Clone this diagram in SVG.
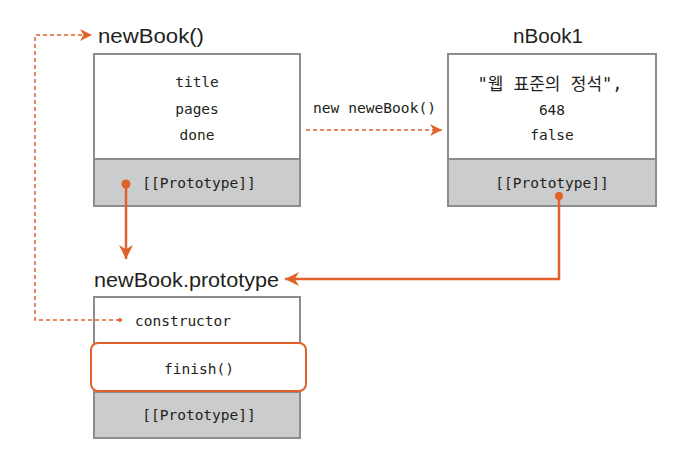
<svg xmlns="http://www.w3.org/2000/svg" width="675" height="454" viewBox="0 0 675 454">
<style>
.box{fill:#fff;stroke:#8c8c8c;stroke-width:2}
.gray{fill:#cbcccd;stroke:#8c8c8c;stroke-width:2}
.mono{font-family:"DejaVu Sans Mono","Liberation Mono","Noto Sans CJK KR",monospace;font-size:14.5px;fill:#231f20;text-anchor:middle}
.title{font-family:"Liberation Sans","DejaVu Sans",sans-serif;font-size:20px;fill:#231f20}
.solid{fill:none;stroke:#e0622a;stroke-width:2.5}
.dash{fill:none;stroke:#e0622a;stroke-width:1.5;stroke-dasharray:4 3}
</style>
<defs>
<marker id="ah" viewBox="0 0 10 10" refX="10" refY="5" markerWidth="12" markerHeight="12" markerUnits="userSpaceOnUse" orient="auto">
<path d="M0,0 L10,5 L0,10 L3,5 z" fill="#e0622a"/>
</marker>
<marker id="ah2" viewBox="0 0 10 10" refX="10" refY="5" markerWidth="14" markerHeight="14" markerUnits="userSpaceOnUse" orient="auto">
<path d="M0,0 L10,5 L0,10 L3,5 z" fill="#e0622a"/>
</marker>
</defs>
<g id="newBook">
<rect class="box" x="94" y="54" width="206" height="105"/>
<rect class="gray" x="94" y="159" width="206" height="47"/>
<text class="title" x="98" y="43" textLength="106" lengthAdjust="spacingAndGlyphs">newBook()</text>
<text class="mono" x="197" y="87">title</text>
<text class="mono" x="197" y="114">pages</text>
<text class="mono" x="197" y="140">done</text>
<text class="mono" x="199" y="188">[[Prototype]]</text>
</g>
<g id="nBook1">
<rect class="box" x="448" y="54" width="208" height="105"/>
<rect class="gray" x="448" y="159" width="208" height="47"/>
<text class="title" x="548" y="43" text-anchor="middle" textLength="70" lengthAdjust="spacingAndGlyphs">nBook1</text>
<text class="mono" x="550" y="90" style="font-size:17px">"웹 표준의 정석",</text>
<text class="mono" x="552" y="115">648</text>
<text class="mono" x="552" y="140">false</text>
<text class="mono" x="552" y="188">[[Prototype]]</text>
</g>
<g id="prototype">
<rect class="box" x="94" y="297" width="206" height="95"/>
<rect class="gray" x="94" y="392" width="206" height="46"/>
<rect x="91" y="343" width="215" height="48" rx="7" fill="#fff" stroke="#e0622a" stroke-width="2"/>
<text class="title" x="94" y="287" textLength="185" lengthAdjust="spacingAndGlyphs">newBook.prototype</text>
<text class="mono" x="135" y="326" style="text-anchor:start">constructor</text>
<text class="mono" x="199" y="374">finish()</text>
<text class="mono" x="199" y="420">[[Prototype]]</text>
</g>
<g id="connectors">
<path class="dash" d="M120,320 H35 V35 H92" marker-end="url(#ah)"/>
<circle cx="120" cy="320" r="2" fill="#e0622a"/>
<path class="dash" d="M306,130 H442" marker-end="url(#ah)"/>
<text x="313" y="113" style="font-family:'DejaVu Sans Mono','Liberation Mono',monospace;font-size:14.5px;fill:#231f20" textLength="123" lengthAdjust="spacingAndGlyphs">new neweBook()</text>
<path class="solid" d="M126,184 V259" marker-end="url(#ah2)"/>
<circle cx="126" cy="184" r="4.5" fill="#e0622a"/>
<path class="solid" d="M559,196 V279 H285" marker-end="url(#ah2)"/>
<circle cx="559" cy="196" r="4" fill="#e0622a"/>
</g>
</svg>
